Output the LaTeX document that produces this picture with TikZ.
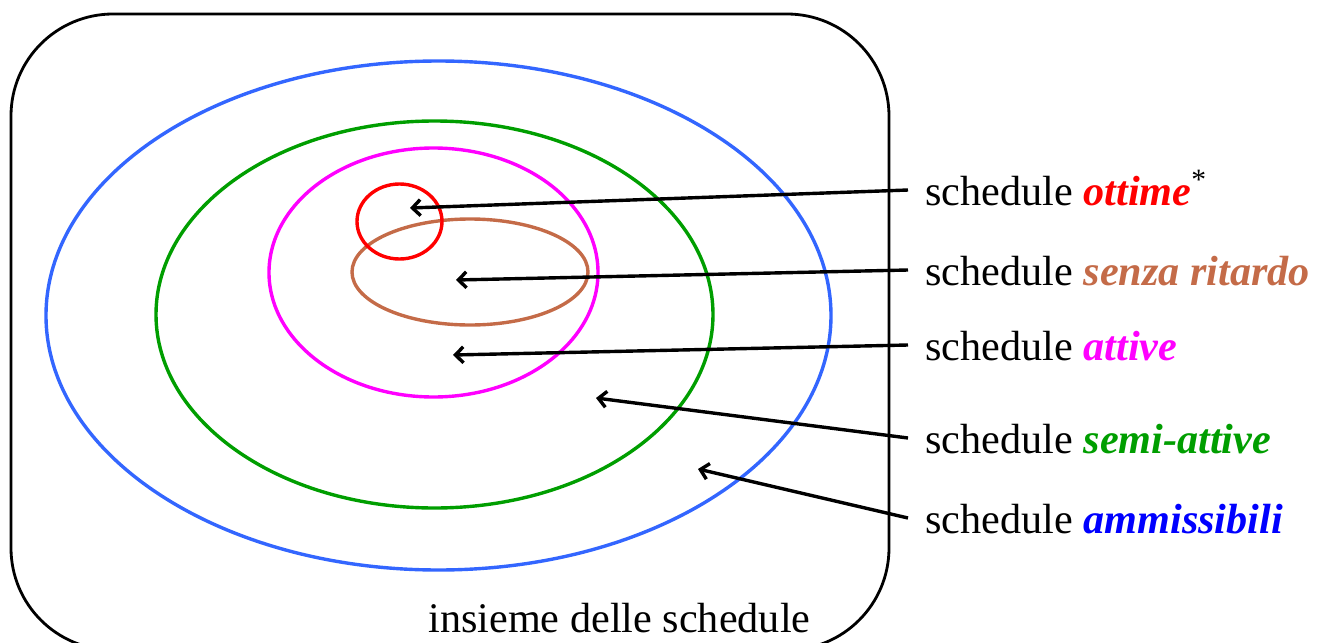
\documentclass[tikz,border=0pt]{standalone}
\usepackage{fontspec}
\setmainfont{Liberation Serif}
\usepackage{xcolor}
\definecolor{scRed}{HTML}{FF0000}
\definecolor{scBrown}{HTML}{C46B48}
\definecolor{scMagenta}{HTML}{FF00FF}
\definecolor{scGreen}{HTML}{009E00}
\definecolor{scBlue}{HTML}{0000FF}
\definecolor{scSky}{HTML}{3366FF}
\usepackage{tikz}
\usetikzlibrary{arrows.meta}

\begin{document}
\begin{tikzpicture}[
      x=0.5pt,y=-0.5pt,
      every node/.style={font=\fontsize{21.1}{25}\selectfont},
      set/.style={line width=1.7pt},
      lbl/.style={anchor=base west,inner ysep=0pt,inner xsep=8.5pt,
                  text height=15pt,text depth=0pt},
      arr/.style={-{Straight Barb[length=4pt,width=8pt]},line width=1.7pt,black},
    ]
    \useasboundingbox (0,0) rectangle (1324,643);

    % Outer frame: the whole set of schedules
    \draw[line width=1.4pt,rounded corners=51pt] (11,14) rectangle (889,650);
    \node[anchor=base west,inner sep=0pt] (insieme) at (428,632)
      {insieme delle schedule};

    % Nested sets
    \draw[set,scSky] (438.5,315.5) ellipse [x radius=196.25pt,y radius=127.25pt];
    \draw[set,scGreen] (434.5,314.5) ellipse [x radius=139.25pt,y radius=96.75pt];
    \draw[set,scMagenta] (433.5,272.5) ellipse [x radius=82.25pt,y radius=62.25pt];
    \draw[set,scBrown] (470,272) ellipse [x radius=59pt,y radius=26.5pt];
    \draw[set,scRed] (399.5,221.5) ellipse [x radius=21.25pt,y radius=18.75pt];

    % Points the labels refer to
    \coordinate (tOttime) at (410,208);
    \coordinate (tSenza) at (456,280);
    \coordinate (tAttive) at (453,355);
    \coordinate (tSemi) at (596,398);
    \coordinate (tAmm) at (698,469);

    % Labels on the right
    \node[lbl] (lOttime) at (908,205)
      {schedule \textcolor{scRed}{\textbf{\textit{ottime}}}\textsuperscript{*}};
    \node[lbl] (lSenza) at (908,285)
      {schedule \textcolor{scBrown}{\textbf{\textit{senza ritardo}}}};
    \node[lbl] (lAttive) at (908,360)
      {schedule \textcolor{scMagenta}{\textbf{\textit{attive}}}};
    \node[lbl] (lSemi) at (908,453)
      {schedule \textcolor{scGreen}{\textbf{\textit{semi-attive}}}};
    \node[lbl] (lAmm) at (908,533)
      {schedule \textcolor{scBlue}{\textbf{\textit{ammissibili}}}};

    % Arrows into the sets
    \draw[arr] (lOttime.west) -- (tOttime);
    \draw[arr] (lSenza.west) -- (tSenza);
    \draw[arr] (lAttive.west) -- (tAttive);
    \draw[arr] (lSemi.west) -- (tSemi);
    \draw[arr] (lAmm.west) -- (tAmm);

  \end{tikzpicture}
\end{document}
